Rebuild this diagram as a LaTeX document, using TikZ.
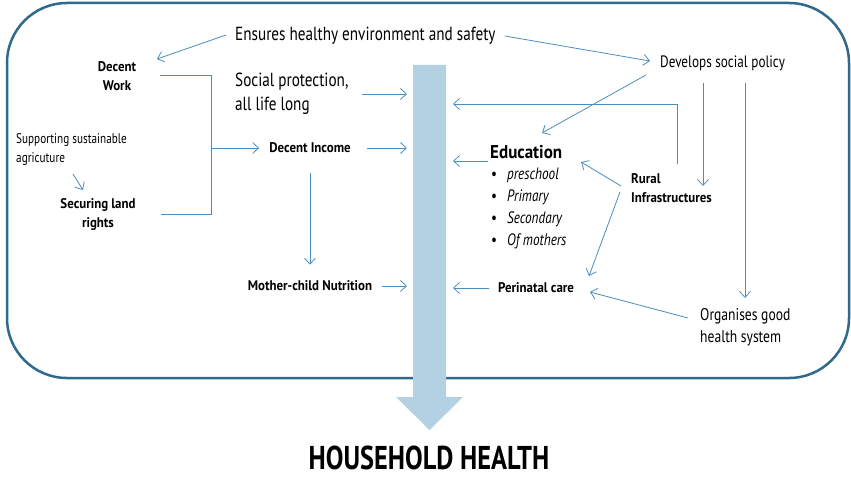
\documentclass[tikz,border=0pt]{standalone}
\usepackage{fontspec}
\setmainfont{PT Sans}[FakeStretch=0.8, BoldFeatures={FakeStretch=0.92}]
\newfontfamily\condb{PT Sans}[FakeStretch=0.8]
\usetikzlibrary{arrows.meta,calc}
\definecolor{boxc}{HTML}{2F6A8C}
\definecolor{arrc}{HTML}{4A8DBF}
\definecolor{shaftc}{HTML}{B3D1E2}
\newcommand{\fs}[2]{\fontsize{#1}{#2}\selectfont}
\newcommand{\itm}[1]{\makebox[16pt][l]{\textbullet}\textit{#1}}
\begin{document}
\begin{tikzpicture}[x=1pt,y=-1pt,
  conn/.style={draw=arrc, line width=0.8pt, -{Straight Barb[length=6pt,width=11pt]}},
  plain/.style={draw=arrc, line width=0.8pt},
  lbl/.style={inner sep=0pt, text=black},
  bl/.style={lbl, font=\bfseries\fs{14}{19}, align=center}]
\useasboundingbox (0,0) rectangle (851,478);
\draw[boxc, line width=2.5pt, rounded corners=60pt] (7,3) rectangle (849,378);
\fill[shaftc] (413,65) -- (446,65) -- (446,397) -- (463,397) -- (429.5,430) -- (396,397) -- (413,397) -- cycle;
\coordinate (shL) at (407,0);
\coordinate (shR) at (453,0);
% texts
\node[lbl, anchor=west, font=\fs{19}{24}] (ens) at (235,36) {Ensures healthy environment and safety};
\node[bl] (dw) at (117,76) {Decent\\Work};
\node[lbl, anchor=west, align=left, font=\fs{19}{24}] (sp) at (235,94) {Social protection,\\all life long};
\node[lbl, anchor=west, align=left, font=\fs{14}{19}] (sa) at (16,150) {Supporting sustainable\\agricuture};
\node[bl] (sl) at (98,214) {Securing land\\rights};
\node[bl] (di) at (310,148) {Decent Income};
\node[bl] (mc) at (310,286) {Mother-child Nutrition};
\node[lbl, anchor=west, font=\fs{16.5}{22}] (dsp) at (660,63) {Develops social policy};
\node[lbl, anchor=west, font=\bfseries\fs{18.5}{24}] (edu) at (490,152) {Education};
\node[lbl, anchor=west, font=\fs{16.5}{20}] (b1) at (491,175) {\itm{preschool}};
\node[lbl, anchor=west, font=\fs{16.5}{20}] (b2) at (491,197) {\itm{Primary}};
\node[lbl, anchor=west, font=\fs{16.5}{20}] (b3) at (491,219) {\itm{Secondary}};
\node[lbl, anchor=west, font=\fs{16.5}{20}] (b4) at (491,241) {\itm{Of mothers}};
\node[bl, anchor=west, align=left] (ri) at (631,188) {Rural\\Infrastructures};
\node[bl, anchor=west] (pc) at (498,288) {Perinatal care};
\node[lbl, anchor=west, align=left, font=\fs{17}{22}] (og) at (700,327) {Organises good\\health system};
\node[lbl, anchor=base, font=\condb\bfseries\fs{33}{40}] (hh) at (429,469) {HOUSEHOLD HEALTH};
% fixed connector points
\coordinate (dwin) at (157,59);
\coordinate (brkT) at (211,75);
\coordinate (brkB) at (211,214);
\coordinate (rtop) at (677,164);
% connectors
\draw[conn] ($(ens.west)+(-9,-1)$) -- (dwin);
\draw[conn] ($(ens.east)+(9,0)$) -- ($(dsp.west)+(-10,-2)$);
\draw[plain] (160,75) -- (brkT) -- (brkB) -- (161,214);
\draw[conn] (brkT |- di.west) -- ($(di.west)+(-10,0)$);
\draw[conn] ($(sp.east)+(13,0)$) -- (shL |- sp.east);
\draw[conn] ($(di.east)+(16,0)$) -- (shL |- di.east);
\draw[conn] ($(di.south)+(0,20)$) -- ($(mc.north)+(0,-16)$);
\draw[conn] ($(mc.east)+(10,0)$) -- (shL |- mc.east);
\draw[conn] (73,174) -- (83,190);
\draw[conn] (646,75) -- (542,133);
\draw[conn] (rtop) -- (rtop |- 0,104) -- (shR |- 0,104);
\draw[conn] ($(edu.west)+(-2,9)$) -- (shR |- 0,161);
\draw[conn] (703,83) -- (703,186);
\draw[conn] (745,83) -- (745,298);
\draw[conn] (621,186) -- (581,162);
\draw[conn] (620,192) -- (589,276);
\draw[conn] ($(pc.west)+(-9,0)$) -- (shR |- pc.west);
\draw[conn] (688,318) -- (590,292);
\end{tikzpicture}
\end{document}
